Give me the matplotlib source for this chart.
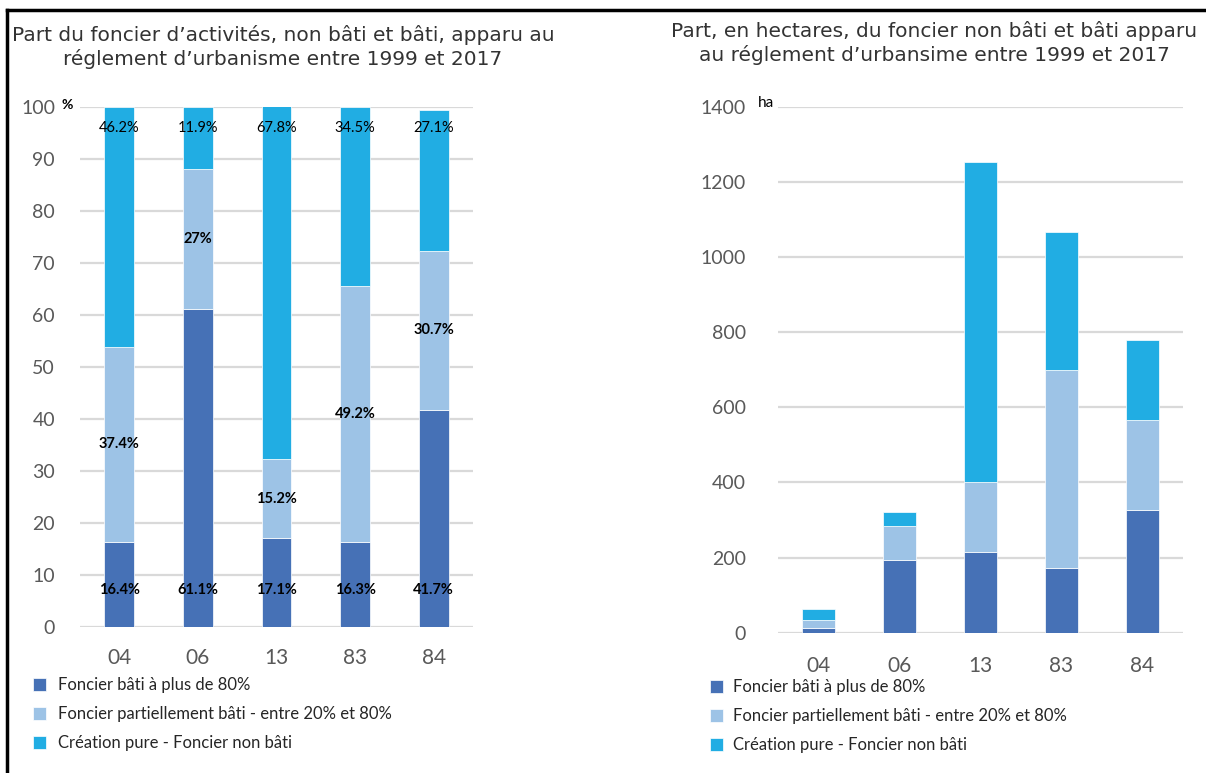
import matplotlib
matplotlib.use("Agg")
import matplotlib.pyplot as plt
from matplotlib.lines import Line2D
import numpy as np

plt.rcParams['font.family'] = ['Lato', 'DejaVu Sans']

# données
departements = ["04", "06", "13", "83", "84"]
pct_bati = [16.4, 61.1, 17.1, 16.3, 41.7]
pct_partiel = [37.4, 27.0, 15.2, 49.2, 30.7]
pct_non_bati = [46.2, 11.9, 67.8, 34.5, 27.1]

ha_bati = [13, 193, 215, 173, 327]
ha_partiel = [21, 92, 186, 526, 239]
ha_non_bati = [28, 36, 852, 367, 213]

series_names = ["Foncier bâti à plus de 80%",
                "Foncier partiellement bâti - entre 20% et 80%",
                "Création pure - Foncier non bâti"]
colors = ["#4671B6", "#9DC3E6", "#21ADE3"]

titre_gauche = "Part du foncier d\u2019activités, non bâti et bâti, apparu au\nréglement d\u2019urbanisme entre 1999 et 2017"
titre_droite = "Part, en hectares, du foncier non bâti et bâti apparu\nau réglement d\u2019urbansime entre 1999 et 2017"

W, H = 1206, 773
fig = plt.figure(figsize=(W / 100, H / 100), dpi=100)

def px_axes(x0, x1, y0, y1):
    return fig.add_axes([x0 / W, 1 - y1 / H, (x1 - x0) / W, (y1 - y0) / H])

ax1 = px_axes(80, 473, 107, 627)
ax2 = px_axes(778, 1183, 106.7, 632.7)

x = np.arange(len(departements))

def style(ax, ymax, step):
    ax.set_xlim(-0.5, len(departements) - 0.5)
    ax.set_ylim(0, ymax)
    ax.set_yticks(np.arange(0, ymax + 1, step))
    ax.yaxis.grid(True, color="#D9D9D9", lw=1.6)
    ax.set_axisbelow(True)
    for s in ax.spines.values():
        s.set_visible(False)
    ax.tick_params(axis="y", length=0, pad=18, labelsize=14, labelcolor="#595959")
    ax.tick_params(axis="x", length=0, pad=15, labelsize=15, labelcolor="#595959")
    ax.set_xticks(x)
    ax.set_xticklabels(departements)

# graphique de gauche : parts en %
b1 = ax1.bar(x, pct_bati, 0.38, color=colors[0], edgecolor="white", lw=0.5)
b2 = ax1.bar(x, pct_partiel, 0.38, bottom=pct_bati, color=colors[1], edgecolor="white", lw=0.5)
bas = np.array(pct_bati) + np.array(pct_partiel)
b3 = ax1.bar(x, pct_non_bati, 0.38, bottom=bas, color=colors[2], edgecolor="white", lw=0.5)
style(ax1, 100, 10)

for i in range(len(departements)):
    ax1.text(x[i], 7.1, f"{pct_bati[i]:g}%", ha="center", va="center", fontsize=10.5, fontweight="bold")
    ax1.text(x[i], pct_bati[i] + pct_partiel[i] / 2, f"{pct_partiel[i]:g}%", ha="center", va="center",
             fontsize=10.5, fontweight="bold")
    ax1.text(x[i], 96, f"{pct_non_bati[i]:g}%", ha="center", va="center", fontsize=10.5)

fig.text(62 / W, 1 - 105 / H, "%", fontsize=10, fontweight="bold", va="center")

# graphique de droite : hectares
ax2.bar(x, ha_bati, 0.4, color=colors[0], edgecolor="white", lw=0.5)
ax2.bar(x, ha_partiel, 0.4, bottom=ha_bati, color=colors[1], edgecolor="white", lw=0.5)
bas2 = np.array(ha_bati) + np.array(ha_partiel)
ax2.bar(x, ha_non_bati, 0.4, bottom=bas2, color=colors[2], edgecolor="white", lw=0.5)
style(ax2, 1400, 200)
ax2.tick_params(axis="y", pad=23)
ax2.tick_params(axis="x", pad=17)

fig.text(758 / W, 1 - 103 / H, "ha", fontsize=11, va="center")

# titres
fig.text(283 / W, 1 - 47 / H, titre_gauche, ha="center", va="center", fontsize=14.5,
         family="DejaVu Sans", color="#333333", linespacing=1.3)
fig.text(934 / W, 1 - 43 / H, titre_droite, ha="center", va="center", fontsize=14.5,
         family="DejaVu Sans", color="#333333", linespacing=1.2)

# légendes
handles = [b1, b2, b3]
fig.legend(handles, series_names, loc="center left", bbox_to_anchor=(33 / W, 1 - 714 / H),
           frameon=False, fontsize=12, handlelength=0.8, handleheight=0.8, handletextpad=0.7,
           labelspacing=0.78, borderpad=0, borderaxespad=0, labelcolor="#262626")
fig.legend(handles, series_names, loc="center left", bbox_to_anchor=(710 / W, 1 - 716 / H),
           frameon=False, fontsize=12, handlelength=0.8, handleheight=0.8, handletextpad=0.6,
           labelspacing=0.78, borderpad=0, borderaxespad=0, labelcolor="#262626")

# cadre
fig.add_artist(Line2D([7 / W, 1], [1 - 10 / H, 1 - 10 / H], color="black", lw=2.5))
fig.add_artist(Line2D([7 / W, 7 / W], [0, 1 - 10 / H], color="black", lw=2.5))

fig.savefig("out.png", dpi=100)
